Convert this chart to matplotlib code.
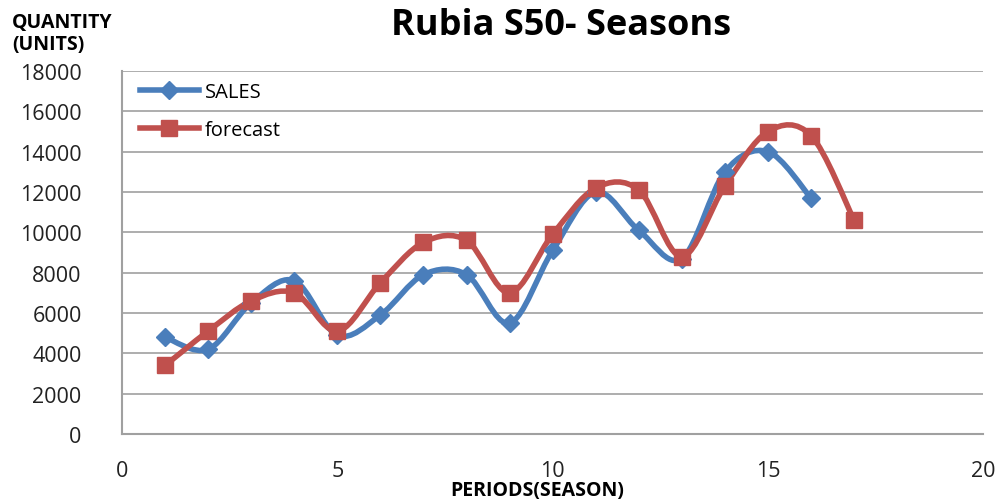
import numpy as np
import matplotlib.pyplot as plt
from matplotlib.path import Path
from matplotlib.patches import PathPatch
from matplotlib.lines import Line2D

plt.rcParams['font.family'] = ['Open Sans', 'DejaVu Sans']

periods_sales = [1, 2, 3, 4, 5, 6, 7, 8, 9, 10, 11, 12, 13, 14, 15, 16]
sales = [4800, 4200, 6500, 7600, 4900, 5900, 7900, 7900, 5500, 9100,
         12000, 10100, 8700, 13000, 14000, 11700]
periods_fc = [1, 2, 3, 4, 5, 6, 7, 8, 9, 10, 11, 12, 13, 14, 15, 16, 17]
forecast = [3400, 5100, 6600, 7000, 5100, 7500, 9500, 9600, 7000, 9900,
            12200, 12100, 8800, 12300, 15000, 14800, 10600]

blue = '#4a7ebb'
red = '#c0504d'


def smooth_path(x, y):
    # excel style smoothed line: catmull-rom turned into bezier segments
    x = np.asarray(x, float)
    y = np.asarray(y, float)
    verts = [(x[0], y[0])]
    codes = [Path.MOVETO]
    n = len(x)
    for i in range(n - 1):
        x0, y0 = (x[i - 1], y[i - 1]) if i > 0 else (x[i], y[i])
        x3, y3 = (x[i + 2], y[i + 2]) if i + 2 < n else (x[i + 1], y[i + 1])
        c1 = (x[i] + (x[i + 1] - x0) / 6, y[i] + (y[i + 1] - y0) / 6)
        c2 = (x[i + 1] - (x3 - x[i]) / 6, y[i + 1] - (y3 - y[i]) / 6)
        verts += [c1, c2, (x[i + 1], y[i + 1])]
        codes += [Path.CURVE4] * 3
    return Path(verts, codes)


fig = plt.figure(figsize=(10.05, 5.02), dpi=100)
ax = fig.add_axes([0.1214, 0.1335, 0.857, 0.723])

for xs, ys, col, mk, ms in [(periods_sales, sales, blue, 'D', 9),
                            (periods_fc, forecast, red, 's', 12)]:
    ax.add_patch(PathPatch(smooth_path(xs, ys), fill=False, edgecolor=col,
                           lw=4, capstyle='round', joinstyle='round', zorder=3))
    ax.plot(xs, ys, ls='none', marker=mk, ms=ms, color=col, zorder=4)

ax.set_xlim(0, 20)
ax.set_ylim(0, 18000)
ax.set_xticks([0, 5, 10, 15, 20])
ax.set_yticks(range(0, 18001, 2000))
ax.grid(axis='y', color='#a0a0a0', lw=1.2)
ax.set_axisbelow(True)
for s in ['top', 'right']:
    ax.spines[s].set_visible(False)
for s in ['left', 'bottom']:
    ax.spines[s].set_color('#a0a0a0')
    ax.spines[s].set_linewidth(1.5)
ax.tick_params(length=0, labelsize=15.5, colors='#222222')
ax.tick_params(axis='y', pad=29)
ax.tick_params(axis='x', pad=19)

handles = [Line2D([], [], color=blue, lw=4, marker='D', ms=9),
           Line2D([], [], color=red, lw=4, marker='s', ms=12)]
ax.legend(handles, ['SALES', 'forecast'], loc='upper left', frameon=False,
          fontsize=14.5, handlelength=2.9, labelspacing=0.9,
          bbox_to_anchor=(0.0, 1.02), handletextpad=0.3)

fig.text(0.558, 0.948, 'Rubia S50- Seasons', ha='center', va='center',
         fontsize=26, fontweight='bold')
fig.text(0.012, 0.932, 'QUANTITY\n(UNITS)', ha='left', va='center',
         fontsize=14, fontweight='bold', linespacing=1.1)
fig.text(0.535, 0.022, 'PERIODS(SEASON)', ha='center', va='center',
         fontsize=14, fontweight='bold')

fig.savefig('out.png', dpi=100)
